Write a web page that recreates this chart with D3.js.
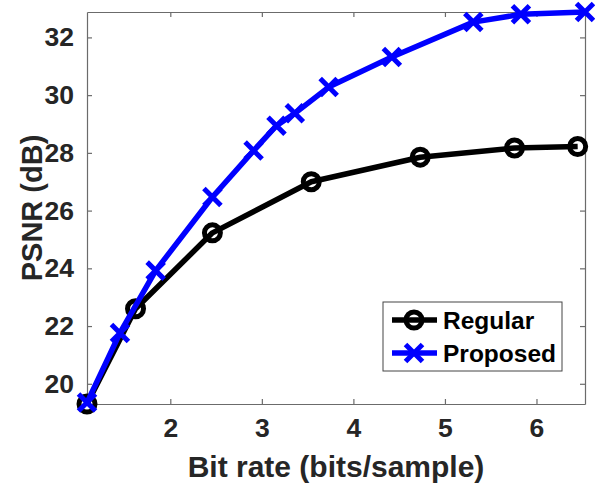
<!DOCTYPE html>
<html>
<head>
<meta charset="utf-8">
<script src="https://cdn.jsdelivr.net/npm/d3@7"></script>
<style>
	body { margin: 0; background: #fff; }
	svg text { font-family: "Liberation Sans", Arial, sans-serif; font-weight: bold; }
</style>
</head>
<body>
<div id="chart"></div>
<script>
// data
var regularX = [1.09, 1.62, 2.46, 3.54, 4.73, 5.76, 6.45];
var regularY = [19.3, 22.6, 25.23, 27.0, 27.85, 28.17, 28.22];
var proposedX = [1.09, 1.45, 1.84, 2.46, 2.91, 3.16, 3.36, 3.73, 4.42, 5.31, 5.83, 6.53];
var proposedY = [19.35, 21.76, 23.92, 26.47, 28.08, 28.94, 29.37, 30.28, 31.32, 32.53, 32.8, 32.88];
var xTicks = [2, 3, 4, 5, 6];
var yTicks = [20, 22, 24, 26, 28, 30, 32];
var seriesNames = ["Regular", "Proposed"];

var width = 595,
	height = 485,
	margin = { top: 12, right: 10, bottom: 81, left: 87 };

var axisColor = "#262626";

var svg = d3.select("#chart").append("svg")
	.attr("width", width)
	.attr("height", height);

var x = d3.scaleLinear()
	.domain([1.09, 6.53])
	.range([margin.left, width - margin.right]);

var y = d3.scaleLinear()
	.domain([19.3, 32.88])
	.range([height - margin.bottom, margin.top]);

// axes, ticks inside like matlab
var tickLen = 5;
var g = svg.append("g");

g.append("g")
	.attr("transform", "translate(0," + y.range()[0] + ")")
	.call(d3.axisBottom(x).tickValues(xTicks).tickSizeInner(-tickLen).tickSizeOuter(0).tickPadding(14).tickFormat(d3.format("d")));
g.append("g")
	.attr("transform", "translate(0," + y.range()[1] + ")")
	.call(d3.axisTop(x).tickValues(xTicks).tickSizeInner(-tickLen).tickSizeOuter(0).tickFormat(""));
g.append("g")
	.attr("transform", "translate(" + x.range()[0] + ",0)")
	.call(d3.axisLeft(y).tickValues(yTicks).tickSizeInner(-tickLen).tickSizeOuter(0).tickPadding(13).tickFormat(d3.format("d")));
g.append("g")
	.attr("transform", "translate(" + x.range()[1] + ",0)")
	.call(d3.axisRight(y).tickValues(yTicks).tickSizeInner(-tickLen).tickSizeOuter(0).tickFormat(""));

g.selectAll(".domain").attr("stroke", "#6b6b6b").attr("stroke-width", 1.2);
g.selectAll(".tick line").attr("stroke", "#6b6b6b").attr("stroke-width", 1.2);
g.selectAll(".tick text")
	.attr("fill", axisColor)
	.style("font-size", "26.5px");

// labels
svg.append("text")
	.attr("x", (x.range()[0] + x.range()[1]) / 2)
	.attr("y", 477)
	.attr("text-anchor", "middle")
	.attr("fill", axisColor)
	.style("font-size", "30px")
	.text("Bit rate (bits/sample)");

svg.append("text")
	.attr("transform", "translate(42," + ((y.range()[0] + y.range()[1]) / 2) + ") rotate(-90)")
	.attr("text-anchor", "middle")
	.attr("fill", axisColor)
	.style("font-size", "29px")
	.text("PSNR (dB)");

// courbes
var line = d3.line()
	.x(function (d) { return x(d[0]); })
	.y(function (d) { return y(d[1]); });

var regular = regularX.map(function (v, i) { return [v, regularY[i]]; });
var proposed = proposedX.map(function (v, i) { return [v, proposedY[i]]; });

var plot = svg.append("g");

function circleMarker(sel, cx, cy) {
	sel.append("circle")
		.attr("cx", cx).attr("cy", cy).attr("r", 8)
		.attr("fill", "none")
		.attr("stroke", "#000")
		.attr("stroke-width", 5);
}

function crossMarker(sel, cx, cy) {
	var s = 8.5;
	sel.append("path")
		.attr("d", "M" + (cx - s) + "," + (cy - s) + "L" + (cx + s) + "," + (cy + s) +
			"M" + (cx - s) + "," + (cy + s) + "L" + (cx + s) + "," + (cy - s))
		.attr("stroke", "#0000ff")
		.attr("stroke-width", 5)
		.attr("fill", "none");
}

plot.append("path")
	.datum(regular)
	.attr("d", line)
	.attr("fill", "none")
	.attr("stroke", "#000")
	.attr("stroke-width", 5.5)
	.attr("stroke-linejoin", "round");
regular.forEach(function (d) {
	circleMarker(plot, x(d[0]), y(d[1]));
});

plot.append("path")
	.datum(proposed)
	.attr("d", line)
	.attr("fill", "none")
	.attr("stroke", "#0000ff")
	.attr("stroke-width", 5.5)
	.attr("stroke-linejoin", "round");
proposed.forEach(function (d) {
	crossMarker(plot, x(d[0]), y(d[1]));
});

// legende
var leg = svg.append("g");
leg.append("rect")
	.attr("x", 383).attr("y", 302)
	.attr("width", 179).attr("height", 69)
	.attr("fill", "#fff")
	.attr("stroke", "#444")
	.attr("stroke-width", 1);

var legColors = ["#000", "#0000ff"];
seriesNames.forEach(function (name, i) {
	var ly = 320 + i * 33;
	leg.append("line")
		.attr("x1", 392).attr("x2", 437)
		.attr("y1", ly).attr("y2", ly)
		.attr("stroke", legColors[i])
		.attr("stroke-width", 5.5);
	if (i === 0) {
		circleMarker(leg, 414, ly);
	} else {
		crossMarker(leg, 414, ly);
	}
	leg.append("text")
		.attr("x", 443)
		.attr("y", ly)
		.attr("dy", "0.36em")
		.attr("fill", "#000")
		.style("font-size", "24.5px")
		.text(name);
});
</script>
</body>
</html>
